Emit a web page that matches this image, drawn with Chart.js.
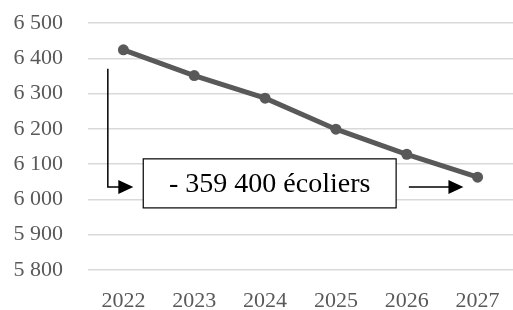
<!DOCTYPE html>
<html>
<head>
<meta charset="utf-8">
<script src="https://cdn.jsdelivr.net/npm/chart.js@4"></script>
<style>
  html, body { margin: 0; padding: 0; background: #fff; }
  #wrap { width: 513px; height: 310px; }
</style>
</head>
<body>
<div id="wrap"><canvas id="ecoliers"></canvas></div>
<script>
const years = ['2022', '2023', '2024', '2025', '2026', '2027'];
const pupils = [6424, 6351, 6287, 6199, 6128, 6063];
const yTicks = [5800, 5900, 6000, 6100, 6200, 6300, 6400, 6500];
const calloutText = '- 359 400 écoliers';

const FONT = '"Liberation Serif", "Times New Roman", serif';

function fmt(v) {
  // 6500 -> "6 500"
  return String(v).replace(/\B(?=(\d{3})+(?!\d))/g, ' ');
}

function arrowHead(ctx, x, y) {
  ctx.beginPath();
  ctx.moveTo(x, y);
  ctx.lineTo(x - 15, y - 7);
  ctx.lineTo(x - 15, y + 7);
  ctx.closePath();
  ctx.fill();
}

// callout box + arrows, placed with the chart's own scales
const callout = {
  id: 'callout',
  afterDraw(chart) {
    const ctx = chart.ctx;
    const xs = chart.scales.x, ys = chart.scales.y;
    const X = v => xs.getPixelForValue(v);
    const Y = v => ys.getPixelForValue(v);

    ctx.save();
    ctx.strokeStyle = '#000';
    ctx.fillStyle = '#000';
    ctx.lineWidth = 1.5;

    // left elbow arrow
    const ay = Y(6035);
    ctx.beginPath();
    ctx.moveTo(X(-0.22), Y(6370));
    ctx.lineTo(X(-0.22), ay);
    ctx.lineTo(X(0.14) - 10, ay);
    ctx.stroke();
    arrowHead(ctx, X(0.14), ay);

    // right arrow
    ctx.beginPath();
    ctx.moveTo(X(4.03), ay);
    ctx.lineTo(X(4.80) - 10, ay);
    ctx.stroke();
    arrowHead(ctx, X(4.80), ay);

    // box
    const bx1 = X(0.28), bx2 = X(3.85), by1 = Y(6115), by2 = Y(5976);
    ctx.fillStyle = '#fff';
    ctx.fillRect(bx1, by1, bx2 - bx1, by2 - by1);
    ctx.lineWidth = 1.2;
    ctx.strokeRect(bx1, by1, bx2 - bx1, by2 - by1);

    ctx.fillStyle = '#000';
    ctx.font = '28px ' + FONT;
    ctx.textAlign = 'center';
    ctx.textBaseline = 'middle';
    ctx.fillText(calloutText, (bx1 + bx2) / 2, (by1 + by2) / 2 + 1);
    ctx.restore();
  }
};

new Chart(document.getElementById('ecoliers').getContext('2d'), {
  type: 'line',
  data: {
    labels: years,
    datasets: [{
      data: pupils,
      borderColor: '#595959',
      backgroundColor: '#595959',
      borderWidth: 5,
      pointRadius: 5.5,
      pointBackgroundColor: '#595959',
      pointBorderWidth: 0,
      tension: 0
    }]
  },
  options: {
    responsive: true,
    maintainAspectRatio: false,
    animation: false,
    layout: { padding: 0, autoPadding: false },
    plugins: {
      legend: { display: false },
      tooltip: { enabled: false }
    },
    scales: {
      x: {
        offset: true,
        grid: { display: false },
        border: { display: false },
        ticks: {
          color: '#595959',
          font: { family: FONT, size: 22 },
          padding: 10
        },
        afterFit(scale) {
          scale.height = 40;
          scale.paddingLeft = 0;
          scale.paddingRight = 0;
        }
      },
      y: {
        min: 5800,
        max: 6500,
        afterBuildTicks(scale) { scale.ticks = yTicks.map(v => ({ value: v })); },
        grid: { color: '#d9d9d9', lineWidth: 1.5, drawTicks: false },
        border: { display: false },
        ticks: {
          color: '#595959',
          font: { family: FONT, size: 22 },
          padding: 25,
          callback: v => fmt(v)
        },
        afterFit(scale) {
          scale.width = 88;
          scale.paddingTop = 23;
          scale.paddingBottom = 0;
        }
      }
    }
  },
  plugins: [callout]
});
</script>
</body>
</html>
